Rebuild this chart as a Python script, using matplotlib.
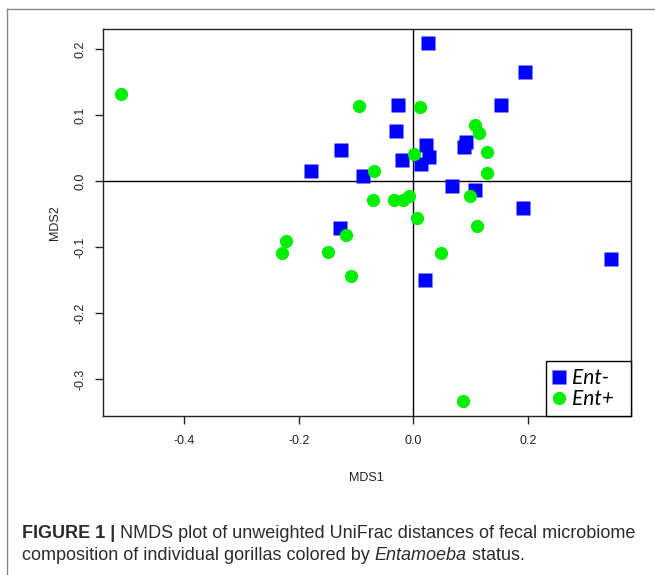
import matplotlib
matplotlib.use("Agg")
import matplotlib.pyplot as plt
from matplotlib.lines import Line2D

plt.rcParams['font.family'] = ['Liberation Sans', 'DejaVu Sans']

# NMDS coordinates
ent_neg_x = [0.026, 0.195, 0.153, -0.026, -0.031, -0.126, 0.023, 0.092, 0.089, 0.028,
             -0.019, 0.013, -0.179, -0.087, 0.067, 0.107, 0.192, -0.128, 0.020, 0.345]
ent_neg_y = [0.210, 0.165, 0.116, 0.116, 0.076, 0.047, 0.055, 0.059, 0.052, 0.037,
             0.033, 0.026, 0.016, 0.008, -0.007, -0.013, -0.041, -0.070, -0.150, -0.117]
ent_pos_x = [-0.511, -0.095, 0.012, 0.108, 0.115, 0.129, 0.001, -0.068, 0.129, 0.099,
             -0.071, -0.034, -0.018, -0.007, 0.006, 0.111, -0.118, -0.223, -0.230, -0.149,
             -0.108, 0.048, 0.086]
ent_pos_y = [0.133, 0.114, 0.113, 0.085, 0.073, 0.045, 0.041, 0.016, 0.012, -0.022,
             -0.028, -0.028, -0.029, -0.022, -0.055, -0.067, -0.082, -0.091, -0.109, -0.107,
             -0.143, -0.108, -0.333]
xticks = [-0.4, -0.2, 0.0, 0.2]
yticks = [-0.3, -0.2, -0.1, 0.0, 0.1, 0.2]
legend_labels = ["Ent-", "Ent+"]

W, H = 655, 575
fig = plt.figure(figsize=(W / 100, H / 100), dpi=100)
ax = fig.add_axes([102.7 / W, 1 - 416 / H, (630.7 - 102.7) / W, (416 - 29.3) / H])

ax.axhline(0, color='black', lw=1, zorder=1)
ax.axvline(0, color='black', lw=1, zorder=1)
ax.plot(ent_neg_x, ent_neg_y, 's', color='#0000ff', markersize=9.5, mec='none', zorder=3)
ax.plot(ent_pos_x, ent_pos_y, 'o', color='#00ee00', markersize=9.5, mec='none', zorder=3)

ax.set_xlim(-0.5425, 0.3797)
ax.set_ylim(-0.3556, 0.2303)
ax.set_xticks(xticks)
ax.set_xticklabels(["%.1f" % v for v in xticks])
ax.set_yticks(yticks)
ax.set_yticklabels(["%.1f" % v for v in yticks])
ax.tick_params(direction='out', length=6, width=1, colors='#222222', labelsize=9)
ax.tick_params(axis='x', pad=8)
ax.tick_params(axis='y', labelrotation=90, pad=6)
for lab in ax.get_yticklabels():
    lab.set_va('center')
for s in ax.spines.values():
    s.set_linewidth(1)
    s.set_color('#222222')
ax.set_xlabel("MDS1", fontsize=9, color='#222222', labelpad=18)
ax.set_ylabel("MDS2", fontsize=9, color='#222222', labelpad=9.5)

handles = [Line2D([], [], marker='s', ls='none', color='#0000ff', markersize=9.5, mec='none'),
           Line2D([], [], marker='o', ls='none', color='#00ee00', markersize=9.5, mec='none')]
# trailing spaces widen the box on the right like the original
leg = ax.legend(handles, [l + "  " for l in legend_labels], loc='lower right', borderaxespad=0,
                fancybox=False, framealpha=1, edgecolor='black', handlelength=0.6,
                handletextpad=0.32, borderpad=0.33, labelspacing=0.05,
                prop={'family': ['Lato', 'DejaVu Sans'], 'style': 'italic', 'size': 15})
leg.get_frame().set_linewidth(1)

# page frame (left and top rules)
fig.add_artist(Line2D([7 / W, 7 / W], [0, 1 - 9 / H], transform=fig.transFigure, color='#888888', lw=1))
fig.add_artist(Line2D([7 / W, 1], [1 - 9 / H, 1 - 9 / H], transform=fig.transFigure, color='#888888', lw=1))

# caption, written in pieces so the bold and italic parts sit inline
renderer = fig.canvas.get_renderer()
cap_size = 13
cap_color = '#2b2b2b'


def run(pieces, x0, y0):
    x = x0
    for txt, weight, style in pieces:
        t = fig.text(x / W, 1 - y0 / H, txt, fontsize=cap_size, color=cap_color,
                     fontweight=weight, fontstyle=style, va='baseline', ha='left')
        bb = t.get_window_extent(renderer)
        x += bb.width


run([("FIGURE 1 | ", 'bold', 'normal'),
     ("NMDS plot of unweighted UniFrac distances of fecal microbiome", 'normal', 'normal')], 22, 538)
run([("composition of individual gorillas colored by ", 'normal', 'normal'),
     ("Entamoeba", 'normal', 'italic'),
     (" status.", 'normal', 'normal')], 22, 560)

fig.savefig("out.png", dpi=100)
